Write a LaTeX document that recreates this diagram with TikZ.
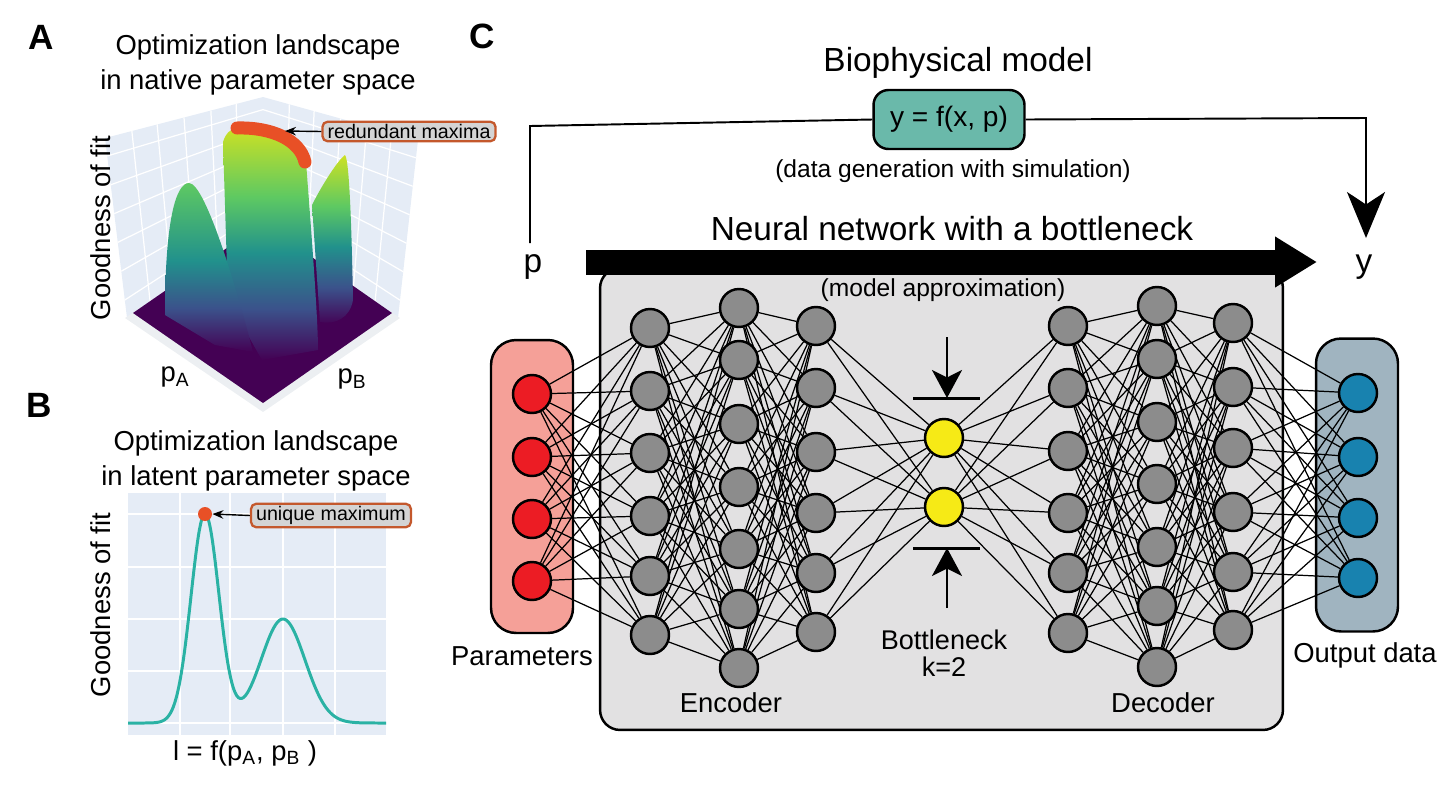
\documentclass[tikz,border=0pt]{standalone}
\usepackage{fontspec}
\setmainfont{Liberation Sans}
\usetikzlibrary{arrows.meta,positioning,calc}

\definecolor{wallbg}{RGB}{229,236,246}
\definecolor{floorpurple}{RGB}{68,1,84}
\definecolor{vgreen}{RGB}{94,201,98}
\definecolor{vyellow}{RGB}{205,225,35}
\definecolor{vteal}{RGB}{33,145,140}
\definecolor{vblue}{RGB}{59,82,139}
\definecolor{maxred}{RGB}{232,80,38}
\definecolor{callborder}{RGB}{196,88,44}
\definecolor{callfill}{RGB}{212,212,212}
\definecolor{fitteal}{RGB}{42,178,164}
\definecolor{parfill}{RGB}{245,160,152}
\definecolor{parred}{RGB}{236,28,36}
\definecolor{nnbg}{RGB}{226,225,226}
\definecolor{hidgray}{RGB}{140,140,140}
\definecolor{neckyellow}{RGB}{246,234,22}
\definecolor{outfill}{RGB}{160,180,192}
\definecolor{outblue}{RGB}{24,130,175}
\definecolor{modelteal}{RGB}{106,185,170}

\pgfdeclareverticalshading{viridishigh}{100bp}{color(0bp)=(floorpurple); color(25bp)=(floorpurple);
  color(36bp)=(vblue); color(48bp)=(vteal); color(60bp)=(vgreen); color(75bp)=(vyellow); color(100bp)=(vyellow)}
\pgfdeclareverticalshading{viridislow}{100bp}{color(0bp)=(floorpurple); color(25bp)=(floorpurple);
  color(38bp)=(vblue); color(52bp)=(vteal); color(75bp)=(vgreen); color(100bp)=(vgreen)}

\pgfdeclarelayer{back}
\pgfdeclarelayer{mid}
\pgfsetlayers{back,mid,main}

\newcommand{\headsize}{\fontsize{19}{22}\selectfont}
\newcommand{\labsize}{\fontsize{15.6}{19.6}\selectfont}
\newcommand{\notesize}{\fontsize{14}{17}\selectfont}
\newcommand{\callsize}{\fontsize{11.2}{13}\selectfont}

\begin{document}
\begin{tikzpicture}[x=0.02cm,y=-0.02cm,every node/.style={font=\labsize},
  in node/.style={circle,fill=parred,draw,line width=1.4pt,minimum size=0.76cm,inner sep=0pt},
  hid node/.style={circle,fill=hidgray,draw,line width=1.4pt,minimum size=0.76cm,inner sep=0pt},
  neck node/.style={circle,fill=neckyellow,draw,line width=1.4pt,minimum size=0.76cm,inner sep=0pt},
  out node/.style={circle,fill=outblue,draw,line width=1.4pt,minimum size=0.76cm,inner sep=0pt},
  layer box/.style={rectangle,rounded corners=0.5cm,draw,line width=1.4pt,minimum width=1.64cm,minimum height=5.86cm},
  link/.style={line width=0.7pt},
  callout/.style={rectangle,rounded corners=0.1cm,draw=callborder,fill=callfill,line width=1.3pt,inner xsep=0.1cm,inner ysep=0.05cm,font=\callsize},
  callarrow/.style={-{Stealth[length=0.22cm,width=0.17cm]},line width=0.8pt},
  gridline/.style={white,line width=0.7pt},
  fitline/.style={fitteal,line width=1.7pt},
  panel/.style={font=\fontsize{20}{22}\selectfont\bfseries},
  thinline/.style={line width=1.1pt},
  neckarrow/.style={-{Stealth[length=0.56cm,width=0.6cm,inset=0.15cm]},line width=1.5pt},
  barline/.style={line width=1.7pt}]

  \useasboundingbox (0,0) rectangle (1450,795);

  % panel A: landscape in native space
  \node[panel] (labA) at (41,37) {A};
  \node[align=center] (titleA) at (258,65) {Optimization landscape\\in native parameter space};

  \coordinate (lw1) at (105,138);
  \coordinate (lw2) at (263,97);
  \coordinate (lw3) at (263,223);
  \coordinate (lw4) at (127,318);
  \coordinate (rw2) at (418,140);
  \coordinate (rw3) at (398,318);
  \fill[wallbg] (lw1) -- (lw2) -- (lw3) -- (lw4) -- cycle;
  \fill[wallbg] (lw2) -- (rw2) -- (rw3) -- (lw3) -- cycle;
  \foreach \fr in {0.17,0.33,0.5,0.67,0.83} {
    \draw[gridline] ($(lw1)!\fr!(lw2)$) -- ($(lw4)!\fr!(lw3)$);
    \draw[gridline] ($(lw2)!\fr!(rw2)$) -- ($(lw3)!\fr!(rw3)$);
  }
  \foreach \fr in {0.1,0.26,0.42,0.58,0.74,0.9} {
    \draw[gridline] ($(lw1)!\fr!(lw4)$) -- ($(lw2)!\fr!(lw3)$);
    \draw[gridline] ($(lw2)!\fr!(lw3)$) -- ($(rw2)!\fr!(rw3)$);
  }
  \fill[wallbg!80!gray!40] (125,318) -- (263,412) -- (400,318) -- (263,228) -- cycle;
  \fill[floorpurple] (133,313) -- (263,403) -- (392,313) -- (263,223) -- cycle;

  % peaks
  \shade[shading=viridishigh]
    (312,205) .. controls (322,185) and (338,160) .. (345,155)
    .. controls (350,160) and (352,250) .. (353,300)
    .. controls (350,318) and (335,325) .. (320,322) -- cycle;
  \shade[shading=viridishigh]
    (223,142) .. controls (226,132) and (232,128) .. (240,127)
    .. controls (272,128) and (300,140) .. (306,162)
    .. controls (312,240) and (318,320) .. (318,350)
    -- (262,360) -- (228,300) -- cycle;
  \shade[shading=viridislow]
    (165,315) .. controls (165,220) and (176,183) .. (189,183)
    .. controls (206,183) and (240,300) .. (253,352)
    -- (215,345) -- cycle;

  \draw[maxred,line width=0.26cm,line cap=round] (237,128) .. controls (272,127) and (300,140) .. (305,162);
  \coordinate (redtip) at (285,131);
  \node[callout] (rbox) at (409,131.5) {redundant maxima};
  \draw[callarrow] (rbox.west) -- (redtip);

  \node[rotate=90] (gofA) at (101,228) {Goodness of fit};
  \node (pA) at (175,377) {p\textsubscript{A}};
  \node (pB) at (352,379) {p\textsubscript{B}};

  % panel B: landscape in latent space
  \node[panel] (labB) at (39,405) {B};
  \node[align=center] (titleB) at (256,461) {Optimization landscape\\in latent parameter space};
  \fill[wallbg] (128,493) rectangle (386,735);
  \foreach \gx in {180,230,283,335} \draw[gridline] (\gx,493) -- (\gx,735);
  \foreach \gy in {514,567,619,671,723} \draw[gridline] (128,\gy) -- (386,\gy);
  \draw[fitline] plot[domain=128:386,samples=160,smooth]
    (\x,{723-209*exp(max(-12,-0.5*((\x-205)/14)*((\x-205)/14)))-104*exp(max(-12,-0.5*((\x-283)/22)*((\x-283)/22)))});
  \node[circle,fill=maxred,minimum size=0.28cm,inner sep=0pt] (umax) at (205,514) {};
  \node[callout] (ubox) at (331,515.5) {unique maximum};
  \draw[callarrow] (ubox.west) -- (umax.east);
  \node[rotate=90] (gofB) at (101,605) {Goodness of fit};
  \node (xlabB) at (245,753) {l = f(p\textsubscript{A}, p\textsubscript{B} )};

  % panel C: network
  \node[panel] (labC) at (482,36) {C};
  \node[font=\headsize] (bioname) at (958,63) {Biophysical model};
  \node[rectangle,rounded corners=0.3cm,draw,fill=modelteal,line width=1.4pt,
        minimum width=3.02cm,minimum height=1.18cm,font=\fontsize{16}{19}\selectfont] (fbox) at (949,119.5) {y = f(x, p)};
  \node[font=\notesize] (simnote) at (953,171) {(data generation with simulation)};
  \node[font=\headsize] (nnname) at (952,229) {Neural network with a bottleneck};
  \node[font=\headsize] (pnode) at (533,267) {p};
  \node[font=\headsize] (ynode) at (1364,267) {y};

  \coordinate (pstart) at (530,243);
  \coordinate (pcorner) at (530,126);
  \coordinate (ycorner) at (1366,118);
  \coordinate (yend) at (1366,238);
  \draw[thinline] (pstart) -- (pcorner) -- (fbox.west);
  \draw[thinline,-{Stealth[length=0.92cm,width=0.76cm,inset=0.25cm]}] (fbox.east) -- (ycorner) -- (yend);

  \begin{pgfonlayer}{back}
    \node[rectangle,rounded corners=0.4cm,draw,fill=nnbg,line width=1.4pt,
          minimum width=13.66cm,minimum height=9.24cm] (nnbox) at (941.5,499) {};
    \node[layer box,fill=parfill] (parbox) at (532,486.5) {};
    \node[layer box,fill=outfill] (outbox) at (1357,485) {};
  \end{pgfonlayer}

  \coordinate (nnstart) at (586,262);
  \coordinate (nnend) at (1317,262);
  \draw[line width=0.5cm,-{Triangle[length=0.84cm,width=0.96cm]}] (nnstart) -- (nnend);
  \node[font=\notesize] (approx) at (943,290) {(model approximation)};

  \foreach \yy [count=\i] in {394,457,519,581} \node[in node] (in\i) at (532,\yy) {};
  \foreach \yy [count=\i] in {328,391,453,516,576,635} \node[hid node] (ea\i) at (650,\yy) {};
  \foreach \yy [count=\i] in {308,360,424,487,549,609,668} \node[hid node] (eb\i) at (739,\yy) {};
  \foreach \yy [count=\i] in {326,388,452,513,573,632} \node[hid node] (ec\i) at (816,\yy) {};
  \foreach \yy [count=\i] in {438,507} \node[neck node] (nk\i) at (944,\yy) {};
  \foreach \yy [count=\i] in {326,388,451,513,573,633} \node[hid node] (da\i) at (1068,\yy) {};
  \foreach \yy [count=\i] in {306,359,422,484,547,606,667} \node[hid node] (db\i) at (1157,\yy) {};
  \foreach \yy [count=\i] in {323,387,448,512,572,630} \node[hid node] (dc\i) at (1233,\yy) {};
  \foreach \yy [count=\i] in {393,457,518,578} \node[out node] (out\i) at (1358,\yy) {};

  \begin{pgfonlayer}{mid}
    \foreach \i in {1,...,4} \foreach \j in {1,...,6} \path[link] (in\i) edge (ea\j);
    \foreach \i in {1,...,6} \foreach \j in {1,...,7} \path[link] (ea\i) edge (eb\j);
    \foreach \i in {1,...,7} \foreach \j in {1,...,6} \path[link] (eb\i) edge (ec\j);
    \foreach \i in {1,...,6} \foreach \j in {1,2} \path[link] (ec\i) edge (nk\j);
    \foreach \i in {1,2} \foreach \j in {1,...,6} \path[link] (nk\i) edge (da\j);
    \foreach \i in {1,...,6} \foreach \j in {1,...,7} \path[link] (da\i) edge (db\j);
    \foreach \i in {1,...,7} \foreach \j in {1,...,6} \path[link] (db\i) edge (dc\j);
    \foreach \i in {1,...,6} \foreach \j in {1,...,4} \path[link] (dc\i) edge (out\j);
  \end{pgfonlayer}

  % bottleneck marks
  \coordinate (topbar) at (947,398);
  \coordinate (botbar) at (947,548);
  \coordinate (topfrom) at (947,337);
  \coordinate (botfrom) at (947,608);
  \draw[barline] ($(topbar)+(-34,0)$) -- ($(topbar)+(33,0)$);
  \draw[barline] ($(botbar)+(-34,0)$) -- ($(botbar)+(33,0)$);
  \draw[neckarrow] (topfrom) -- (topbar);
  \draw[neckarrow] (botfrom) -- (botbar);

  \node (parlab) at (522,656) {Parameters};
  \node (outlab) at (1365,655) {Output data};
  \node (enclab) at (731,703) {Encoder};
  \node (declab) at (1163,703) {Decoder};
  \node[align=center,font=\fontsize{15.4}{15.6}\selectfont] (necklab) at (944,653) {Bottleneck\\k=2};

\end{tikzpicture}
\end{document}
